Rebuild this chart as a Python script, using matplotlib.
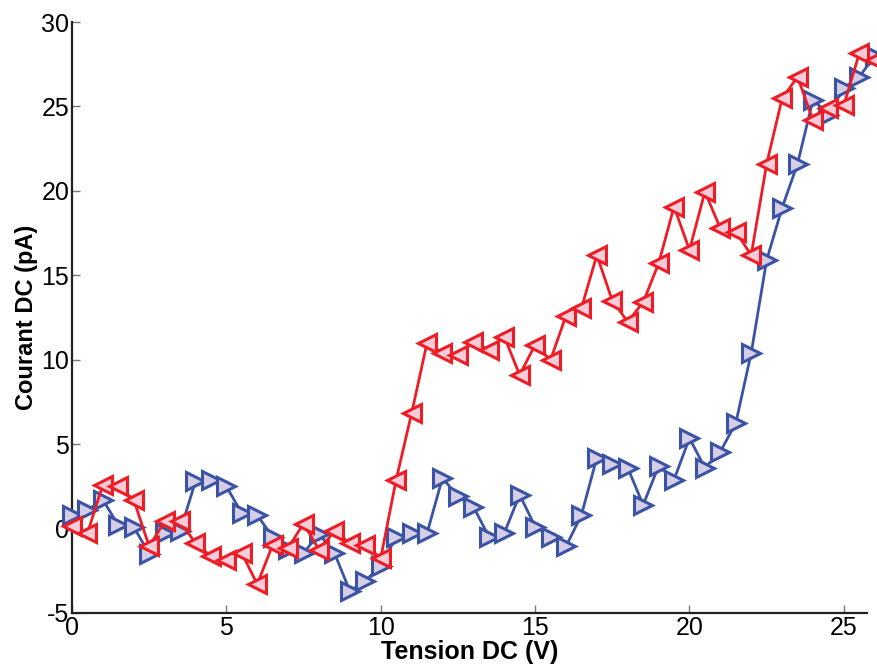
import numpy as np
import matplotlib.pyplot as plt

plt.rcParams['font.family'] = ['Liberation Sans', 'DejaVu Sans']
plt.rcParams['axes.unicode_minus'] = False

# tension steps (V), same grid for both sweeps
tension = np.arange(0, 26.01, 0.5)

# up sweep (blue, right triangles)
courant_aller = [0.8, 1.1, 1.7, 0.2, 0.1, -1.5, -0.27, -0.17, 2.8, 2.9,
                 2.5, 0.9, 0.8, -0.5, -1.2, -1.45, -0.3, -1.45, -3.7, -3.1,
                 -2.2, -0.5, -0.27, -0.27, 3.0, 1.9, 1.3, -0.47, -0.27, 2.0,
                 0.12, -0.47, -1.06, 0.8, 4.2, 3.8, 3.6, 1.4, 3.7, 2.9,
                 5.35, 3.6, 4.56, 6.24, 10.4, 15.9, 19.0, 21.6, 25.4, 24.5,
                 26.1, 26.75, 28.0]

# down sweep (red, left triangles)
courant_retour = [0.17, -0.27, 2.6, 2.5, 1.7, -1.06, 0.42, 0.42, -0.86, -1.65,
                  -1.85, -1.45, -3.3, -0.96, -1.15, 0.3, -1.25, -0.17, -0.86, -0.96,
                  -1.75, 2.9, 6.83, 11.0, 10.4, 10.3, 11.07, 10.58, 11.37, 9.1,
                  10.88, 9.99, 12.6, 13.05, 16.2, 13.5, 12.25, 13.4, 15.7, 19.06,
                  16.5, 19.95, 17.78, 17.58, 16.2, 21.6, 25.47, 26.75, 24.19, 24.88,
                  25.07, 28.14, 27.74]

fig = plt.figure(figsize=(8.77, 6.66), dpi=100)
ax = fig.add_axes([72 / 877, 1 - 613 / 666, 795 / 877, (613 - 22) / 666])

ax.plot(tension, courant_aller, '-', marker='>', color='#3a53a4', lw=2,
        markersize=13, markeredgewidth=2.2, markerfacecolor='#d6cde6',
        markeredgecolor='#3a53a4', clip_on=False, zorder=3)
ax.plot(tension, courant_retour, '-', marker='<', color='#ee1c25', lw=2,
        markersize=13, markeredgewidth=2.2, markerfacecolor='#f8cbd9',
        markeredgecolor='#ee1c25', clip_on=False, zorder=4)

ax.set_xlim(0, 25.75)
ax.set_ylim(-5, 30)
ax.set_xticks([0, 5, 10, 15, 20, 25])
ax.set_yticks([-5, 0, 5, 10, 15, 20, 25, 30])

ax.spines['top'].set_visible(False)
ax.spines['right'].set_visible(False)
for s in ('left', 'bottom'):
    ax.spines[s].set_linewidth(1.6)
    ax.spines[s].set_color('#222222')

ax.tick_params(direction='in', length=6, width=1, color='#777777',
               labelsize=18, pad=2)

ax.set_xlabel('Tension DC (V)', fontsize=18, fontweight='bold', labelpad=0)
ax.set_ylabel('Courant DC (pA)', fontsize=17, fontweight='bold', labelpad=2)

fig.savefig('out.png', dpi=100)
